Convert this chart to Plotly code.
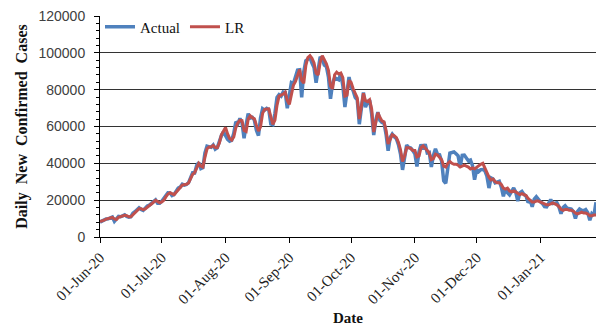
import pandas as pd
import plotly.graph_objects as go

# Daily new confirmed cases, 01-Jun-2020 .. 28-Jan-2021
actual_jun = [8100, 8800, 9400, 9800, 9900, 10400, 10900, 8500, 10200, 11200,
              11000, 11300, 12000, 11100, 10700, 11000, 12900, 13700, 14700, 15900,
              15000, 14500, 15700, 16900, 17300, 18200, 19500, 20100, 18300, 18300]
actual_jul = [19429, 20903, 22721, 24018, 23942, 22510, 23135, 24879, 26506, 27114,
              28637, 28178, 28498, 29429, 32695, 34884, 34820, 38902, 40425, 37148,
              37724, 45720, 49310, 48916, 48661, 49931, 47704, 48513, 52123, 55079, 57118]
actual_aug = [54736, 52972, 52050, 52509, 56282, 62538, 61537, 64399, 62064, 53601,
              60963, 66999, 64553, 65002, 63490, 57981, 55079, 64531, 69652, 68898,
              69878, 69239, 61408, 60975, 67151, 75760, 77266, 76472, 78761, 78512, 69921]
actual_sep = [78357, 83883, 83341, 86432, 90632, 90802, 75809, 89706, 95735, 96551,
              97570, 94372, 92071, 83809, 90123, 97894, 96424, 93337, 92605, 86961,
              75083, 83347, 86508, 86052, 85362, 88600, 82170, 70589, 80472, 86821]
actual_oct = [81484, 79476, 75829, 74442, 61267, 72049, 78524, 70496, 73272, 74383,
              66732, 55342, 63509, 67708, 63371, 62212, 61871, 55722, 46790, 54044,
              55839, 54366, 53370, 50129, 45148, 36469, 43893, 49881, 48648, 48268, 46963]
actual_nov = [45231, 38310, 46253, 50210, 47638, 50357, 45674, 45903, 38073, 44281,
              47905, 44879, 44684, 41100, 30548, 29163, 38617, 45576, 45882, 46232,
              45209, 44059, 37975, 44376, 44489, 43082, 41322, 41810, 38772, 31118]
actual_dec = [36604, 35551, 36595, 36652, 36011, 32981, 26567, 32080, 31521, 29398,
              30006, 30254, 27071, 22065, 26382, 24010, 22890, 25152, 26624, 24337,
              19556, 23950, 24712, 23067, 22273, 18732, 20021, 16432, 20550, 21822, 20035]
actual_jan = [19079, 18177, 16504, 16375, 18088, 20346, 18139, 18222, 18645, 16311,
              12584, 15968, 16946, 15590, 15158, 15144, 13788, 10064, 13823, 15223,
              14545, 14256, 14849, 13203, 9102, 12689, 11666, 18855]

# Linear-regression estimates for the same days
lr_jun = [8400, 8600, 9200, 9700, 9950, 10100, 10600, 9800, 9500, 10700,
          11200, 11300, 11800, 11600, 11000, 11000, 12200, 13400, 14300, 15400,
          15400, 14900, 15300, 16400, 17100, 17900, 19000, 19900, 19300, 18600]
lr_jul = [19000, 20000, 21800, 23300, 24000, 23300, 23000, 24300, 25900, 26900,
          28200, 28400, 28600, 29300, 31600, 34000, 35000, 37600, 40000, 38500,
          38000, 43300, 47900, 48900, 48900, 49700, 48600, 48500, 51000, 55500, 58000]
lr_aug = [59500, 56000, 53500, 52600, 54300, 59400, 62000, 63300, 63200, 57800,
          57300, 64000, 65800, 64800, 64200, 60700, 57500, 59800, 67100, 69300,
          69400, 69600, 65300, 61200, 63500, 71500, 76500, 76900, 77600, 78600, 74200]
lr_sep = [72000, 77500, 82500, 84500, 88000, 91000, 85000, 83500, 93000, 97500,
          98500, 97000, 94500, 89000, 88000, 95000, 98500, 96500, 94000, 90500,
          82000, 80500, 88000, 89500, 88500, 89000, 86500, 76500, 77000, 85000]
lr_oct = [84000, 80500, 77500, 75500, 64000, 70000, 78000, 74000, 73500, 74500,
          69500, 57000, 61500, 67500, 65000, 63000, 62500, 58000, 50500, 53000,
          55500, 55000, 54000, 51500, 47500, 41000, 44000, 48500, 48500, 48000, 47000]
lr_nov = [47000, 43500, 44000, 48500, 49500, 48500, 47000, 45500, 42000, 42500,
          45000, 44500, 43500, 42000, 38500, 38000, 40000, 41000, 40000, 39500,
          39500, 39000, 38000, 38500, 39000, 38500, 38000, 37000, 37500, 37000]
lr_dec = [38000, 38500, 39500, 40000, 37500, 35500, 32500, 31000, 31500, 30000,
          29500, 29500, 28500, 26500, 26000, 26500, 25000, 24500, 25000, 24500,
          23500, 23000, 23500, 23000, 22500, 21000, 20000, 19000, 19000, 19500, 19500]
lr_jan = [19000, 18500, 18000, 17500, 17500, 18000, 18500, 18000, 17500, 16500,
          15000, 14500, 15000, 15000, 14500, 14500, 14000, 13000, 12500, 13000,
          13500, 13000, 13000, 12500, 11500, 11500, 12000, 12000]

actual = (actual_jun + actual_jul + actual_aug + actual_sep
          + actual_oct + actual_nov + actual_dec + actual_jan)
lr = lr_jun + lr_jul + lr_aug + lr_sep + lr_oct + lr_nov + lr_dec + lr_jan
dates = pd.date_range("2020-06-01", periods=len(actual), freq="D")

BLUE = "#4F81BD"
RED = "#C0504D"
SERIF = "Liberation Serif, Times New Roman, serif"
SANS = "Liberation Sans, Arial, sans-serif"

fig = go.Figure()
fig.add_trace(go.Scatter(x=dates, y=actual, mode="lines", name="Actual",
                         line=dict(color=BLUE, width=3.5)))
fig.add_trace(go.Scatter(x=dates, y=lr, mode="lines", name="LR",
                         line=dict(color=RED, width=3)))

fig.update_layout(
    width=596, height=326,
    margin=dict(l=100, r=0, t=16, b=89),
    paper_bgcolor="white", plot_bgcolor="white",
    showlegend=True,
    legend=dict(orientation="h", x=0.0, y=1.025, xanchor="left", yanchor="top",
                bgcolor="rgba(0,0,0,0)", font=dict(family=SERIF, size=15, color="#111"),
                itemwidth=30, tracegroupgap=0),
    xaxis=dict(
        type="date",
        range=[dates[0], dates[-1]],
        tick0="2020-06-01", dtick="M1", tickformat="%d-%b-%y",
        tickangle=-45,
        ticks="outside", ticklen=5, tickcolor="black",
        showline=True, linecolor="black", linewidth=1,
        showgrid=False, zeroline=False,
        tickfont=dict(family=SERIF, size=15, color="#222"),
        title=dict(text="<b>Date</b>", font=dict(family=SERIF, size=15, color="#111"),
                   standoff=6),
    ),
    yaxis=dict(
        range=[0, 120000], dtick=20000, tick0=0, tickformat="d",
        ticks="outside", ticklen=5, tickcolor="black",
        showline=True, linecolor="black", linewidth=1,
        showgrid=True, gridcolor="#333333", gridwidth=1,
        zeroline=False,
        minor=dict(dtick=4000, ticks="outside", ticklen=3, tickcolor="black",
                   showgrid=False),
        ticklabelstandoff=6,
        tickfont=dict(family=SANS, size=14, color="#404040"),
        title=dict(text="<b>Daily  New  Confirmed  Cases</b>",
                   font=dict(family=SERIF, size=16, color="#111"), standoff=6),
    ),
)

fig.write_html("out.html")
